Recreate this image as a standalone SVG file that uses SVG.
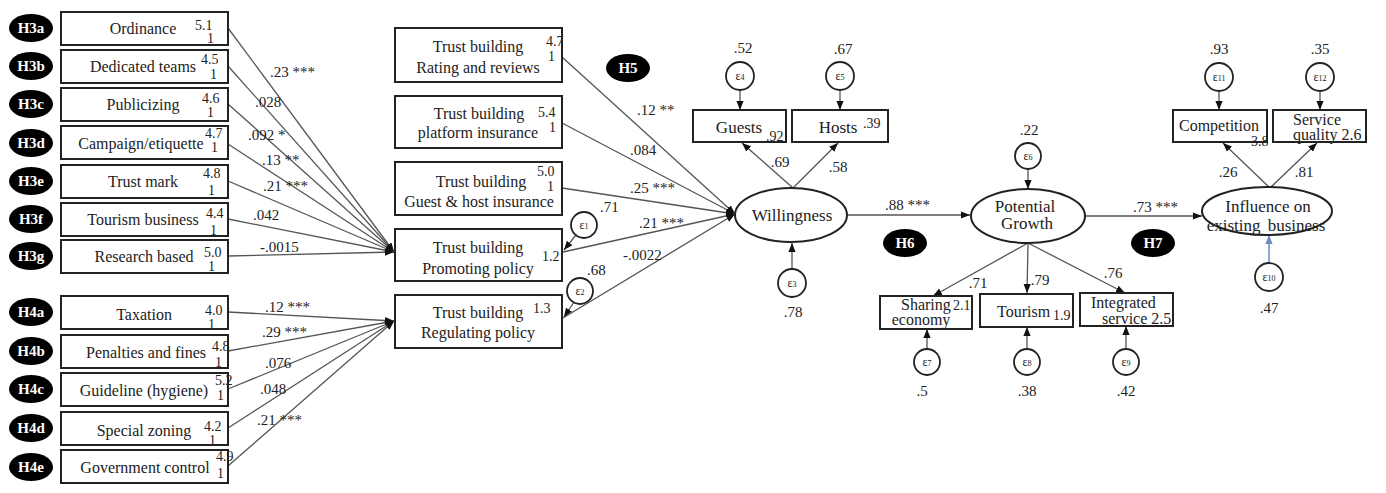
<svg xmlns="http://www.w3.org/2000/svg" width="1386" height="493" viewBox="0 0 1386 493">
<style>
.bg{fill:#fff}
.box{fill:#fff;stroke:#222;stroke-width:2}
.lat{fill:#fff;stroke:#222;stroke-width:2}
.ec{fill:#fff;stroke:#222;stroke-width:1.8}
.hl{fill:#000}
.ht{font-family:"Liberation Serif",serif;font-size:15px;font-weight:bold;fill:#fff;text-anchor:middle}
.t{font-family:"Liberation Serif",serif;font-size:16px;fill:#222}
.lt{font-family:"Liberation Serif",serif;font-size:17px;fill:#222;text-anchor:middle}
.m{text-anchor:middle}
.n{font-family:"Liberation Serif",serif;font-size:14px;fill:#222}
.k{font-family:"Liberation Serif",serif;font-size:15px;fill:#222}
.e{font-family:"Liberation Serif",serif;font-size:12px;fill:#222;text-anchor:middle}
.c{stroke:#555;stroke-width:1.3;fill:none;marker-end:url(#ah)}
.cb{stroke:#6b8cc0;stroke-width:1.5;fill:none;marker-end:url(#ahb)}
</style>
<defs>
<marker id="ah" viewBox="0 0 10 10" refX="10" refY="5" markerWidth="9" markerHeight="9" markerUnits="userSpaceOnUse" orient="auto"><path d="M0,1 L10,5 L0,9 z" fill="#111"/></marker>
<marker id="ahb" viewBox="0 0 10 10" refX="10" refY="5" markerWidth="9" markerHeight="9" markerUnits="userSpaceOnUse" orient="auto"><path d="M0,1 L10,5 L0,9 z" fill="#6b8cc0"/></marker>
</defs>
<rect class="bg" x="0" y="0" width="1386" height="493"/>

<g id="connectors">
<line class="c" x1="228" y1="28" x2="394" y2="252"/>
<line class="c" x1="228" y1="66" x2="394" y2="252"/>
<line class="c" x1="228" y1="104" x2="394" y2="252"/>
<line class="c" x1="228" y1="144" x2="394" y2="252"/>
<line class="c" x1="228" y1="181" x2="394" y2="252"/>
<line class="c" x1="228" y1="219" x2="394" y2="252"/>
<line class="c" x1="228" y1="256" x2="394" y2="252"/>
<line class="c" x1="228" y1="312" x2="394" y2="321"/>
<line class="c" x1="228" y1="351" x2="394" y2="321"/>
<line class="c" x1="228" y1="389" x2="394" y2="321"/>
<line class="c" x1="228" y1="428" x2="394" y2="321"/>
<line class="c" x1="228" y1="466" x2="394" y2="321"/>
<line class="c" x1="562" y1="57" x2="735" y2="214"/>
<line class="c" x1="562" y1="123" x2="735" y2="214"/>
<line class="c" x1="562" y1="188" x2="735" y2="214"/>
<line class="c" x1="563" y1="252" x2="735" y2="214"/>
<line class="c" x1="563" y1="318" x2="735" y2="214"/>
<line class="c" x1="576" y1="235" x2="564" y2="250"/>
<line class="c" x1="574" y1="302" x2="564" y2="317"/>
<line class="c" x1="740" y1="90" x2="740" y2="110"/>
<line class="c" x1="840" y1="90" x2="840" y2="110"/>
<line class="c" x1="793" y1="188" x2="742" y2="143"/>
<line class="c" x1="793" y1="188" x2="838" y2="143"/>
<line class="c" x1="792" y1="269" x2="792" y2="243"/>
<line class="c" x1="847" y1="215" x2="970" y2="215"/>
<line class="c" x1="1028" y1="169" x2="1028" y2="189"/>
<line class="c" x1="1028" y1="243" x2="933" y2="296"/>
<line class="c" x1="1028" y1="243" x2="1027" y2="293"/>
<line class="c" x1="1028" y1="243" x2="1125" y2="293"/>
<line class="c" x1="927" y1="349" x2="927" y2="329"/>
<line class="c" x1="1027" y1="349" x2="1027" y2="327"/>
<line class="c" x1="1126" y1="349" x2="1126" y2="326"/>
<line class="c" x1="1085" y1="216" x2="1202" y2="216"/>
<line class="c" x1="1219" y1="91" x2="1219" y2="110"/>
<line class="c" x1="1320" y1="91" x2="1320" y2="110"/>
<line class="c" x1="1270" y1="188" x2="1223" y2="143"/>
<line class="c" x1="1270" y1="188" x2="1317" y2="143"/>
<line class="cb" x1="1269" y1="263" x2="1269" y2="235"/>
</g>

<g id="labels" class="k">
<text x="270" y="77">.23 ***</text>
<text x="255" y="107">.028</text>
<text x="248" y="140">.092 *</text>
<text x="262" y="165">.13 **</text>
<text x="263" y="191">.21 ***</text>
<text x="253" y="220">.042</text>
<text x="260" y="252">-.0015</text>
<text x="265" y="312">.12 ***</text>
<text x="262" y="337">.29 ***</text>
<text x="265" y="368">.076</text>
<text x="260" y="394">.048</text>
<text x="257" y="425">.21 ***</text>
<text x="637" y="115">.12 **</text>
<text x="630" y="155">.084</text>
<text x="630" y="193">.25 ***</text>
<text x="600" y="212">.71</text>
<text x="639" y="228">.21 ***</text>
<text x="623" y="260">-.0022</text>
<text x="587" y="275">.68</text>
<text x="743" y="53" text-anchor="middle">.52</text>
<text x="843" y="54" text-anchor="middle">.67</text>
<text x="780" y="167" text-anchor="middle">.69</text>
<text x="838" y="172" text-anchor="middle">.58</text>
<text x="793" y="317" text-anchor="middle">.78</text>
<text x="885" y="210">.88 ***</text>
<text x="1029" y="135" text-anchor="middle">.22</text>
<text x="978" y="288" text-anchor="middle">.71</text>
<text x="1040" y="285" text-anchor="middle">.79</text>
<text x="1113" y="278" text-anchor="middle">.76</text>
<text x="922" y="396" text-anchor="middle">.5</text>
<text x="1027" y="396" text-anchor="middle">.38</text>
<text x="1126" y="396" text-anchor="middle">.42</text>
<text x="1133" y="212">.73 ***</text>
<text x="1219" y="54" text-anchor="middle">.93</text>
<text x="1320" y="54" text-anchor="middle">.35</text>
<text x="1228" y="177" text-anchor="middle">.26</text>
<text x="1304" y="177" text-anchor="middle">.81</text>
<text x="1269" y="313" text-anchor="middle">.47</text>
</g>

<g id="h3a"><ellipse class="hl" cx="31" cy="28" rx="22" ry="14"/><text class="ht" x="31" y="33">H3a</text>
<rect class="box" x="61" y="12" width="167" height="33"/><text class="t m" x="143" y="34">Ordinance</text><text class="n" x="195" y="30">5.1</text><text class="n" x="207" y="43">1</text></g>
<g id="h3b"><ellipse class="hl" cx="31" cy="66" rx="22" ry="14"/><text class="ht" x="31" y="71">H3b</text>
<rect class="box" x="61" y="50" width="167" height="33"/><text class="t m" x="143" y="72">Dedicated teams</text><text class="n" x="201" y="64">4.5</text><text class="n" x="210" y="79">1</text></g>
<g id="h3c"><ellipse class="hl" cx="31" cy="104" rx="22" ry="14"/><text class="ht" x="31" y="109">H3c</text>
<rect class="box" x="61" y="88" width="167" height="33"/><text class="t m" x="143" y="110">Publicizing</text><text class="n" x="202" y="103">4.6</text><text class="n" x="207" y="117">1</text></g>
<g id="h3d"><ellipse class="hl" cx="31" cy="143" rx="22" ry="14"/><text class="ht" x="31" y="148">H3d</text>
<rect class="box" x="61" y="126" width="167" height="33"/><text class="t m" x="141" y="149">Campaign/etiquette</text><text class="n" x="205" y="138">4.7</text><text class="n" x="211" y="152">1</text></g>
<g id="h3e"><ellipse class="hl" cx="31" cy="181" rx="22" ry="14"/><text class="ht" x="31" y="186">H3e</text>
<rect class="box" x="61" y="165" width="167" height="33"/><text class="t m" x="143" y="187">Trust mark</text><text class="n" x="203" y="178">4.8</text><text class="n" x="208" y="195">1</text></g>
<g id="h3f"><ellipse class="hl" cx="31" cy="219" rx="22" ry="14"/><text class="ht" x="31" y="224">H3f</text>
<rect class="box" x="61" y="203" width="167" height="33"/><text class="t m" x="143" y="225">Tourism business</text><text class="n" x="206" y="218">4.4</text><text class="n" x="210" y="235">1</text></g>
<g id="h3g"><ellipse class="hl" cx="31" cy="256" rx="22" ry="14"/><text class="ht" x="31" y="261">H3g</text>
<rect class="box" x="61" y="240" width="167" height="33"/><text class="t m" x="144" y="262">Research based</text><text class="n" x="204" y="257">5.0</text><text class="n" x="208" y="271">1</text></g>

<g id="h4a"><ellipse class="hl" cx="31" cy="312" rx="22" ry="14"/><text class="ht" x="31" y="317">H4a</text>
<rect class="box" x="61" y="296" width="167" height="33"/><text class="t m" x="144" y="320">Taxation</text><text class="n" x="205" y="315">4.0</text><text class="n" x="208" y="329">1</text></g>
<g id="h4b"><ellipse class="hl" cx="31" cy="351" rx="22" ry="14"/><text class="ht" x="31" y="356">H4b</text>
<rect class="box" x="61" y="335" width="167" height="33"/><text class="t m" x="146" y="358">Penalties and fines</text><text class="n" x="212" y="351" font-size="12">4.8</text><text class="n" x="215" y="367" font-size="11">1</text></g>
<g id="h4c"><ellipse class="hl" cx="31" cy="389" rx="22" ry="14"/><text class="ht" x="31" y="394">H4c</text>
<rect class="box" x="61" y="373" width="167" height="33"/><text class="t m" x="144" y="396">Guideline  (hygiene)</text><text class="n" x="215" y="385" font-size="13">5.2</text><text class="n" x="217" y="400" font-size="12">1</text></g>
<g id="h4d"><ellipse class="hl" cx="31" cy="428" rx="22" ry="14"/><text class="ht" x="31" y="433">H4d</text>
<rect class="box" x="61" y="412" width="167" height="33"/><text class="t m" x="144" y="436">Special zoning</text><text class="n" x="204" y="431">4.2</text><text class="n" x="209" y="445">1</text></g>
<g id="h4e"><ellipse class="hl" cx="31" cy="467" rx="22" ry="14"/><text class="ht" x="31" y="472">H4e</text>
<rect class="box" x="61" y="450" width="167" height="33"/><text class="t m" x="145" y="473">Government control</text><text class="n" x="216" y="461" font-size="13">4.9</text><text class="n" x="217" y="478" font-size="12">1</text></g>

<g id="rating"><rect class="box" x="395" y="28" width="167" height="54"/><text class="t m" x="478" y="52">Trust building</text><text class="t m" x="478" y="73">Rating and reviews</text><text class="n" x="546" y="46">4.7</text><text class="n" x="548" y="61">1</text></g>
<g id="platform"><rect class="box" x="395" y="96" width="167" height="52"/><text class="t m" x="479" y="119">Trust building</text><text class="t m" x="478" y="138">platform insurance</text><text class="n" x="538" y="117">5.4</text><text class="n" x="549" y="132">1</text></g>
<g id="guesthost"><rect class="box" x="395" y="162" width="167" height="53"/><text class="t m" x="481" y="187">Trust building</text><text class="t m" x="479" y="207">Guest &amp; host insurance</text><text class="n" x="537" y="176">5.0</text><text class="n" x="547" y="191">1</text></g>
<g id="promoting"><rect class="box" x="395" y="229" width="167" height="52"/><text class="t m" x="478" y="253">Trust building</text><text class="t m" x="478" y="274">Promoting policy</text><text class="n" x="542" y="261">1.2</text></g>
<g id="regulating"><rect class="box" x="395" y="295" width="167" height="53"/><text class="t m" x="478" y="318">Trust building</text><text class="t m" x="478" y="338">Regulating  policy</text><text class="n" x="533" y="313">1.3</text></g>
<g id="e1"><circle class="ec" cx="584" cy="225" r="13"/><text class="e" x="584" y="229">ε<tspan font-size="8">1</tspan></text></g>
<g id="e2"><circle class="ec" cx="580" cy="291" r="13"/><text class="e" x="580" y="295">ε<tspan font-size="8">2</tspan></text></g>
<g id="h5"><ellipse class="hl" cx="628" cy="68" rx="22" ry="14"/><text class="ht" x="628" y="73">H5</text></g>

<g id="willingness"><ellipse class="lat" cx="791" cy="215" rx="56" ry="27"/><text class="lt" x="792" y="221">Willingness</text></g>
<g id="e3"><circle class="ec" cx="792" cy="283" r="14"/><text class="e" x="792" y="287">ε<tspan font-size="8">3</tspan></text></g>
<g id="guests"><rect class="box" x="693" y="110" width="93" height="32"/><text class="lt" x="739" y="133">Guests</text><text class="n" x="766" y="141">.92</text></g>
<g id="hosts"><rect class="box" x="792" y="110" width="96" height="32"/><text class="lt" x="838" y="133">Hosts</text><text class="n" x="863" y="128">.39</text></g>
<g id="e4"><circle class="ec" cx="740" cy="76" r="14"/><text class="e" x="740" y="80">ε<tspan font-size="8">4</tspan></text></g>
<g id="e5"><circle class="ec" cx="840" cy="76" r="14"/><text class="e" x="840" y="80">ε<tspan font-size="8">5</tspan></text></g>

<g id="growth"><ellipse class="lat" cx="1028" cy="216" rx="57" ry="27"/><text class="lt" x="1025" y="212">Potential</text><text class="lt" x="1027" y="229">Growth</text></g>
<g id="e6"><circle class="ec" cx="1028" cy="156" r="13"/><text class="e" x="1028" y="160">ε<tspan font-size="8">6</tspan></text></g>
<g id="h6"><ellipse class="hl" cx="905" cy="243" rx="22" ry="14"/><text class="ht" x="905" y="248">H6</text></g>
<g id="sharing"><rect class="box" x="880" y="296" width="92" height="33"/><text class="t" x="901" y="310">Sharing</text><text class="n" x="953" y="310">2.1</text><text class="t m" x="921" y="325">economy</text></g>
<g id="tourism"><rect class="box" x="980" y="294" width="93" height="33"/><text class="t" x="997" y="317">Tourism</text><text class="n" x="1053" y="320">1.9</text></g>
<g id="integrated"><rect class="box" x="1080" y="293" width="93" height="33"/><text class="t" x="1091" y="308">Integrated</text><text class="t" x="1102" y="324">service 2.5</text></g>
<g id="e7"><circle class="ec" cx="927" cy="362" r="13"/><text class="e" x="927" y="366">ε<tspan font-size="8">7</tspan></text></g>
<g id="e8"><circle class="ec" cx="1027" cy="362" r="13"/><text class="e" x="1027" y="366">ε<tspan font-size="8">8</tspan></text></g>
<g id="e9"><circle class="ec" cx="1126" cy="362" r="13"/><text class="e" x="1126" y="366">ε<tspan font-size="8">9</tspan></text></g>

<g id="influence"><ellipse class="lat" cx="1267" cy="211" rx="65" ry="24"/><text class="lt" x="1268" y="212">Influence on</text><text class="lt" x="1266" y="231" word-spacing="3">existing business</text></g>
<g id="h7"><ellipse class="hl" cx="1153" cy="243" rx="22" ry="14"/><text class="ht" x="1153" y="248">H7</text></g>
<g id="e10"><circle class="ec" cx="1269" cy="277" r="14"/><text class="e" x="1269" y="281">ε<tspan font-size="8">10</tspan></text></g>
<g id="competition"><rect class="box" x="1173" y="110" width="94" height="32"/><text class="t m" x="1219" y="131">Competition</text><text class="n" x="1251" y="146" font-size="13">3.8</text></g>
<g id="service"><rect class="box" x="1273" y="110" width="93" height="32"/><text class="t m" x="1317" y="125">Service</text><text class="t" x="1293" y="140">quality 2.6</text></g>
<g id="e11"><circle class="ec" cx="1219" cy="77" r="14"/><text class="e" x="1219" y="81">ε<tspan font-size="8">11</tspan></text></g>
<g id="e12"><circle class="ec" cx="1320" cy="77" r="14"/><text class="e" x="1320" y="81">ε<tspan font-size="8">12</tspan></text></g>
</svg>
